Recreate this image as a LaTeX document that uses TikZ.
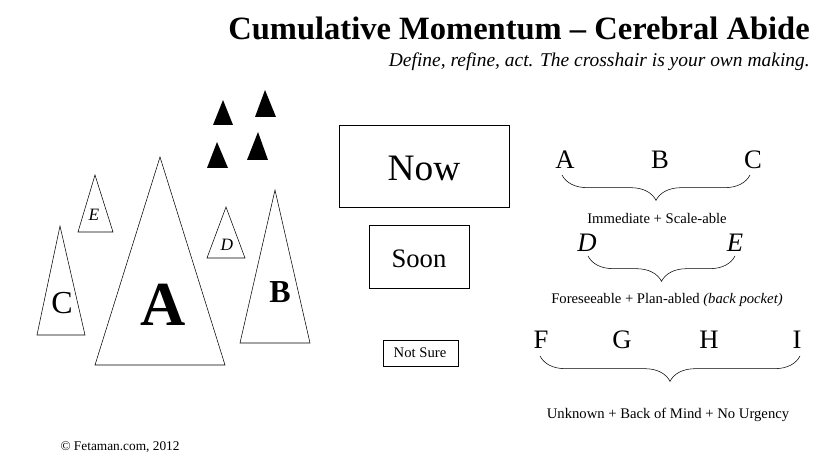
\documentclass[tikz,border=0pt]{standalone}
\usepackage{fontspec}
\setmainfont{Liberation Serif}
\usetikzlibrary{decorations.pathreplacing}

\begin{document}
\begin{tikzpicture}[x=0.75pt,y=-0.75pt,
peak/.style={draw,thin},
rock/.style={fill=black},
box/.style={draw,thin},
lab/.style={inner sep=0},
grp/.style={decorate,decoration={brace,amplitude=19pt},thin},
note/.style={font=\fontsize{11}{12}\selectfont,inner sep=0}]
	\useasboundingbox (0,0) rectangle (835,474);
	% title
	\node[lab,anchor=base east,font=\fontsize{24.4}{26}\selectfont\bfseries] (title) at (810,40) {Cumulative Momentum -- Cerebral Abide};
	\node[lab,anchor=base east,font=\fontsize{14.6}{16}\selectfont\itshape] (sub) at (810,67) {Define, refine, act. The crosshair is your own making.};

	% mountains
	\draw[peak] (60,226) -- (85,335) -- (37,335) -- cycle;
	\draw[peak] (95,175) -- (113,232) -- (78,232) -- cycle;
	\draw[peak] (160,157) -- (225,365) -- (95,365) -- cycle;
	\draw[peak] (226,207) -- (245,258) -- (207,258) -- cycle;
	\draw[peak] (275,190) -- (310,343) -- (240,343) -- cycle;
	\fill[rock] (223,100) -- (233,125) -- (213,125) -- cycle;
	\fill[rock] (265,90) -- (276,117) -- (255,117) -- cycle;
	\fill[rock] (217,142) -- (228,168) -- (207,168) -- cycle;
	\fill[rock] (258,132) -- (268,160) -- (247,160) -- cycle;
	\node[lab,font=\fontsize{24}{26}\selectfont] (mc) at (62,303) {C};
	\node[lab,font=\fontsize{13}{14}\selectfont\itshape] (me) at (94,215) {E};
	\node[lab,font=\fontsize{47}{50}\selectfont\bfseries] (ma) at (163,305) {A};
	\node[lab,font=\fontsize{13}{14}\selectfont\itshape] (md) at (227,245) {D};
	\node[lab,font=\fontsize{24}{26}\selectfont\bfseries] (mb) at (280,292) {B};

	% time boxes
	\draw[box] (339,125) rectangle (509,207);
	\node[lab,font=\fontsize{28}{30}\selectfont] (now) at (424,168) {Now};
	\draw[box] (369,225) rectangle (469,288);
	\node[lab,font=\fontsize{20}{22}\selectfont] (soon) at (419,259) {Soon};
	\draw[box] (383,340) rectangle (458,366);
	\node[note] (notsure) at (420,353) {Not Sure};

	% groups
	\def\gfont{\fontsize{20}{22}\selectfont}
	\node[lab,font=\gfont] (ga) at (565,160) {A};
	\node[lab,font=\gfont] (gb) at (660,160) {B};
	\node[lab,font=\gfont] (gc) at (753,160) {C};
	\draw[grp] (750,175) -- (562,175);
	\node[note] (l1) at (657,218) {Immediate + Scale-able};
	\node[lab,font=\gfont\itshape] (gd) at (587,243) {D};
	\node[lab,font=\gfont\itshape] (ge) at (735,243) {E};
	\draw[grp] (735,256) -- (588,256);
	\node[note] (l2) at (667,300) {Foreseeable + Plan-abled \textit{(back pocket)}};
	\node[lab,font=\gfont] (gf) at (541,340) {F};
	\node[lab,font=\gfont] (gg) at (622,340) {G};
	\node[lab,font=\gfont] (gh) at (709,340) {H};
	\node[lab,font=\gfont] (gi) at (797,340) {I};
	\draw[grp] (800,356) -- (540,356);
	\node[note] (l3) at (668,415) {Unknown + Back of Mind + No Urgency};

	\node[note,font=\fontsize{10}{11}\selectfont] (copy) at (120,447) {\textcopyright{} Fetaman.com, 2012};
\end{tikzpicture}
\end{document}
